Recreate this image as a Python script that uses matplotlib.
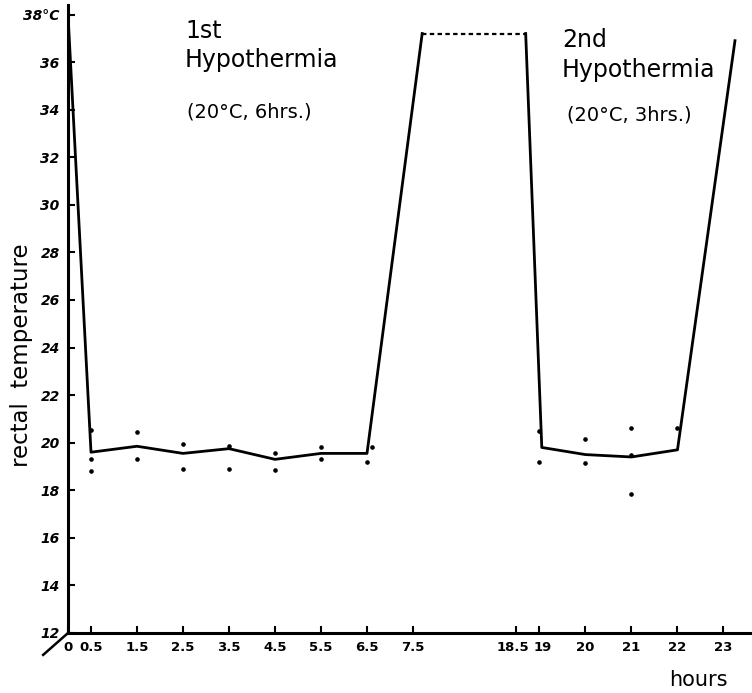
import numpy as np
import matplotlib.pyplot as plt
from matplotlib.transforms import ScaledTranslation

# hours on the (broken) time axis and mean rectal temperature
t_first = [0, 0.5, 1.5, 2.5, 3.5, 4.5, 5.5, 6.5, 7.7]
temp_first = [38.0, 19.6, 19.85, 19.55, 19.75, 19.3, 19.55, 19.55, 37.2]
t_gap = [7.7, 18.7]
temp_gap = [37.2, 37.2]
t_second = [18.7, 19.05, 20, 21, 22, 23.25]
temp_second = [37.2, 19.8, 19.5, 19.4, 19.7, 36.9]

# individual measurements (dots)
dot_t = [0.5, 0.5, 0.5, 1.5, 1.5, 2.5, 2.5, 3.5, 3.5, 4.5, 4.5, 5.5, 5.5,
         6.6, 6.5, 19, 19, 20, 20, 21, 21, 21, 22]
dot_temp = [20.55, 19.3, 18.8, 20.45, 19.3, 19.95, 18.9, 19.85, 18.9, 19.55,
            18.85, 19.8, 19.3, 19.8, 19.2, 20.5, 19.2, 20.15, 19.15, 20.6,
            19.5, 17.85, 20.6]

xticks = [0, 0.5, 1.5, 2.5, 3.5, 4.5, 5.5, 6.5, 7.5, 18.5, 19, 20, 21, 22, 23]
xtick_labels = ['0', '0.5', '1.5', '2.5', '3.5', '4.5', '5.5', '6.5', '7.5',
                '18.5', '19', '20', '21', '22', '23']
yticks = list(range(12, 39, 2))
ytick_labels = [str(v) for v in yticks[:-1]] + ['38°C']


def pos(t):
    # squeeze out the gap between 7.5 and 18.5 hrs
    t = np.asarray(t, dtype=float)
    return np.where(t <= 8, t, t - 8.75)


W, H = 752, 693
fig = plt.figure(figsize=(W / 100, H / 100), dpi=100)
ax = fig.add_axes([68 / W, (H - 633) / H, (W - 68) / W, 628 / H])

ax.plot(pos(t_first), temp_first, color='black', lw=2.0)
ax.plot(pos(t_gap), temp_gap, color='black', lw=1.6, ls=(0, (2, 1.5)))
ax.plot(pos(t_second), temp_second, color='black', lw=2.0)
ax.plot(pos(dot_t), dot_temp, 'o', color='black', ms=2.3, ls='none')

ax.set_xlim(0, 14.87)
ax.set_ylim(12, 38.4)

for side in ['top', 'right']:
    ax.spines[side].set_visible(False)
for side in ['left', 'bottom']:
    ax.spines[side].set_linewidth(2.2)

ax.set_xticks(pos(xticks))
ax.set_xticklabels(xtick_labels, fontsize=9.5, fontweight='bold')
ax.set_yticks(yticks)
ax.set_yticklabels(ytick_labels, fontsize=10, fontweight='bold', style='italic')
ax.tick_params(direction='in', length=5, width=1.5, pad=6)

# nudge the crowded 18.5 / 19 labels apart
xl = ax.get_xticklabels()
xl[9].set_transform(xl[9].get_transform() + ScaledTranslation(-4 / 100, 0, fig.dpi_scale_trans))
xl[10].set_transform(xl[10].get_transform() + ScaledTranslation(3 / 100, 0, fig.dpi_scale_trans))

# axis break mark at origin
ax.plot([-0.54, 0], [11.08, 12], color='black', lw=1.8, clip_on=False)

fig.text(22 / W, 1 - 355 / H, 'rectal  temperature', rotation=90,
         fontsize=16.5, ha='center', va='center')
fig.text(698 / W, 1 - 680 / H, 'hours', fontsize=15, ha='center', va='center')

fig.text(185 / W, 1 - 19 / H, '1st\nHypothermia', fontsize=17,
         ha='left', va='top', linespacing=1.25)
fig.text(187 / W, 1 - 112 / H, '(20°C, 6hrs.)', fontsize=14,
         ha='left', va='center')
fig.text(562 / W, 1 - 28 / H, '2nd\nHypothermia', fontsize=17,
         ha='left', va='top', linespacing=1.3)
fig.text(567 / W, 1 - 115 / H, '(20°C, 3hrs.)', fontsize=14,
         ha='left', va='center')

fig.savefig('out.png', dpi=100)
